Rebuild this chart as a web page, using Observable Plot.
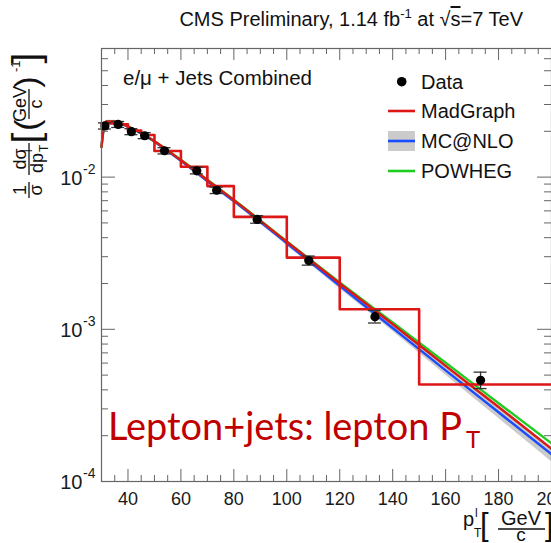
<!DOCTYPE html>
<html><head><meta charset="utf-8">
<script src="https://cdn.jsdelivr.net/npm/d3@7"></script>
<script src="https://cdn.jsdelivr.net/npm/@observablehq/plot@0.6"></script>
<style>
body{margin:0;overflow:hidden;background:#fff}
#chart svg{display:block}
</style>
</head><body><div id="chart"></div>
<script>
// ---- data ----
const dataPt   = [31.3, 36.3, 41.3, 46.3, 53.8, 66, 73.5, 88.8, 108.3, 133.3, 173.2];
const dataVal  = [0.0217, 0.0222, 0.0199, 0.0187, 0.0149, 0.0110, 0.0082, 0.00527, 0.00283, 0.00121, 0.000462];
const dataLo   = [0.0207, 0.0212, 0.0190, 0.0179, 0.0142, 0.0105, 0.0078, 0.00498, 0.00264, 0.00110, 0.000408];
const dataHi   = [0.0227, 0.0232, 0.0208, 0.0196, 0.0156, 0.0116, 0.0086, 0.00558, 0.00303, 0.00133, 0.000523];

const curvePt  = [30, 31, 32, 35, 40, 45, 50, 60, 70, 80, 100, 120, 140, 160, 180, 200];
const madgraph = [0.0158, 0.0216, 0.0232, 0.0232, 0.0215, 0.0195, 0.0172, 0.0129, 0.00955, 0.00706, 0.00376, 0.00200, 0.00108, 0.000575, 0.000309, 0.000164];
const powheg   = [0.0158, 0.0216, 0.0232, 0.0232, 0.0215, 0.0195, 0.0172, 0.0130, 0.0096, 0.0071, 0.00378, 0.00203, 0.00111, 0.000603, 0.000327, 0.000178];
const mcnlo    = [0.0158, 0.0216, 0.0231, 0.0231, 0.0214, 0.0194, 0.0171, 0.0128, 0.0094, 0.00695, 0.00368, 0.00193, 0.00102, 0.000537, 0.000285, 0.000151];
const mcnloLo  = [0.0154, 0.0211, 0.0226, 0.0226, 0.0209, 0.0190, 0.0167, 0.0125, 0.0092, 0.00676, 0.00356, 0.00185, 0.00097, 0.000501, 0.000260, 0.000135];
const mcnloHi  = [0.0162, 0.0221, 0.0236, 0.0236, 0.0219, 0.0198, 0.0175, 0.0131, 0.0096, 0.00714, 0.00381, 0.00201, 0.00107, 0.000576, 0.000312, 0.000169];

const binEdges = [30, 35, 40, 45, 50, 60, 70, 80, 100, 120, 150, 200];
const binVals  = [0.0225, 0.0222, 0.0202, 0.0189, 0.01483, 0.0117, 0.00873, 0.00548, 0.00296, 0.001355, 0.000434];

const xMajor = [40, 60, 80, 100, 120, 140, 160, 180, 200];
const xMinor = [35, 45, 50, 55, 65, 70, 75, 85, 90, 95, 105, 110, 115, 125, 130, 135, 145, 150, 155, 165, 170, 175, 185, 190, 195];
const yMajor = [1e-4, 1e-3, 1e-2];
const yMinor = [2e-4,3e-4,4e-4,5e-4,6e-4,7e-4,8e-4,9e-4,2e-3,3e-3,4e-3,5e-3,6e-3,7e-3,8e-3,9e-3,0.02,0.03,0.04,0.05,0.06,0.07];

// ---- tables built from the arrays ----
const pts = dataPt.map((x, i) => ({x, y: dataVal[i], lo: dataLo[i], hi: dataHi[i]}));
const curves = curvePt.map((x, i) => ({x, mg: madgraph[i], pw: powheg[i], mc: mcnlo[i], lo: mcnloLo[i], hi: mcnloHi[i]}));
const hist = binEdges.map((x, i) => ({x, y: binVals[Math.min(i, binVals.length - 1)]}));

const W = 551, H = 543, mL = 101, mR = 0, mT = 48, mB = 62;
const pW = W - mL - mR, pH = H - mT - mB;
const axisCol = "#666";
const RED = "#dd1616", BLUE = "#1a4cff", GREEN = "#1fcc1f", BAND = "#cbcbcb";

const chart = Plot.plot({
  width: W, height: H,
  marginLeft: mL, marginRight: mR, marginTop: mT, marginBottom: mB,
  style: {fontFamily: "'Liberation Sans', Arial, sans-serif", background: "#fff", color: "#1a1a1a", overflow: "visible"},
  x: {domain: [30, 200], axis: null},
  y: {type: "log", domain: [1e-4, 0.07], axis: null},
  marks: [
    Plot.areaY(curves, {x: "x", y1: "lo", y2: "hi", fill: BAND, curve: "monotone-x"}),
    Plot.line(curves, {x: "x", y: "mc", stroke: BLUE, strokeWidth: 2.4, curve: "monotone-x"}),
    Plot.line(curves, {x: "x", y: "pw", stroke: GREEN, strokeWidth: 2.4, curve: "monotone-x"}),
    Plot.line(curves, {x: "x", y: "mg", stroke: RED, strokeWidth: 2.4, curve: "monotone-x"}),
    Plot.line(hist, {x: "x", y: "y", stroke: RED, strokeWidth: 2.6, curve: "step-after"}),
    Plot.ruleX(pts, {x: "x", y1: "lo", y2: "hi", stroke: "#333", strokeWidth: 1.3}),
    Plot.ruleY(pts, {y: "lo", x1: "x", x2: "x", insetLeft: -6.5, insetRight: -6.5, stroke: "#333", strokeWidth: 1.3}),
    Plot.ruleY(pts, {y: "hi", x1: "x", x2: "x", insetLeft: -6.5, insetRight: -6.5, stroke: "#333", strokeWidth: 1.3}),
    Plot.dot(pts, {x: "x", y: "y", r: 4.6, fill: "#000", stroke: "none"}),
    // ticks (inward)
    Plot.ruleX(xMajor, {x: d => d, insetTop: pH - 12, stroke: axisCol}),
    Plot.ruleX(xMinor, {x: d => d, insetTop: pH - 6, stroke: axisCol}),
    Plot.ruleX(xMajor, {x: d => d, insetBottom: pH - 12, stroke: axisCol}),
    Plot.ruleX(xMinor, {x: d => d, insetBottom: pH - 6, stroke: axisCol}),
    Plot.ruleY(yMajor, {y: d => d, insetRight: pW - 14, stroke: axisCol}),
    Plot.ruleY(yMinor, {y: d => d, insetRight: pW - 7, stroke: axisCol}),
    Plot.ruleY(yMajor, {y: d => d, insetLeft: pW - 14, stroke: axisCol}),
    Plot.ruleY(yMinor, {y: d => d, insetLeft: pW - 7, stroke: axisCol}),
    Plot.frame({stroke: axisCol, strokeWidth: 1.2}),
    // tick labels
    Plot.axisX({ticks: xMajor, tickSize: 0, tickPadding: 11, fontSize: 18, tickFormat: d => String(d), label: null}),
    Plot.axisY({ticks: yMajor, tickSize: 0, tickPadding: 19, fontSize: 20, tickFormat: () => "10", label: null, dy: 1}),
    Plot.axisY({ticks: yMajor, tickSize: 0, tickPadding: 6, fontSize: 14, tickFormat: d => String(Math.round(Math.log10(d))), label: null, dy: -8})
  ]
});
document.getElementById("chart").append(chart);

// ---- annotations ----
const svg = d3.select(chart);
const ink = "#111";
const FONT = "'Liberation Sans', Arial, sans-serif";
function T(parent, x, y, s, size, anchor = "start", extra = {}) {
  return parent.append("text").attr("x", x).attr("y", y).attr("font-size", size)
    .attr("text-anchor", anchor).attr("fill", extra.fill || ink).attr("font-family", extra.family || FONT).text(s);
}

// title
const title = svg.append("text").attr("x", 523).attr("y", 26).attr("text-anchor", "end")
  .attr("font-size", 20).attr("font-family", FONT).attr("fill", ink);
title.append("tspan").text("CMS Preliminary, 1.14 fb");
title.append("tspan").attr("font-size", 13).attr("dy", -8).text("-1");
title.append("tspan").attr("dy", 8).text(" at ");
title.append("tspan").text("\u221A");
title.append("tspan").style("text-decoration", "overline").text("s");
title.append("tspan").text("=7 TeV");

// inner label
T(svg, 123, 85, "e/\u03BC + Jets Combined", 20.5);

// legend
svg.append("circle").attr("cx", 401.7).attr("cy", 81.7).attr("r", 4.8).attr("fill", "#000");
T(svg, 421, 89, "Data", 20);
svg.append("line").attr("x1", 388).attr("x2", 415).attr("y1", 111).attr("y2", 111).attr("stroke", RED).attr("stroke-width", 2.6);
T(svg, 421, 118, "MadGraph", 20);
svg.append("rect").attr("x", 388).attr("y", 131).attr("width", 27).attr("height", 20).attr("fill", BAND);
svg.append("line").attr("x1", 388).attr("x2", 415).attr("y1", 141).attr("y2", 141).attr("stroke", BLUE).attr("stroke-width", 2.6);
T(svg, 421, 148, "MC@NLO", 20);
svg.append("line").attr("x1", 388).attr("x2", 415).attr("y1", 171).attr("y2", 171).attr("stroke", GREEN).attr("stroke-width", 2.6);
T(svg, 421, 178, "POWHEG", 20);

// big caption
const cap = svg.append("text").attr("x", 108).attr("y", 440).attr("text-anchor", "start")
  .attr("font-family", "Lato, 'Open Sans', sans-serif").attr("font-size", 40).attr("fill", "#c00000");
const capMain = cap.append("tspan").text("Lepton+jets: lepton P");
const capLen = capMain.node().getComputedTextLength();
cap.attr("font-size", 40 * 354 / capLen);
cap.append("tspan").attr("font-size", 24).attr("dy", 8).attr("dx", 4).text("T");

// y axis label (rotated)
const gy = svg.append("g").attr("transform", "translate(29,215) rotate(-90)").attr("fill", ink).attr("font-family", FONT);
T(gy, 25, -3, "1", 18, "middle");
T(gy, 25, 13, "\u03C3", 18, "middle");
gy.append("line").attr("x1", 17).attr("x2", 33).attr("y1", 0).attr("y2", 0).attr("stroke", ink).attr("stroke-width", 1.3);
T(gy, 56, -3, "d\u03C3", 18, "middle");
T(gy, 52, 14, "dp", 18, "middle");
T(gy, 63, 3, "l", 12, "start");
T(gy, 63, 19, "T", 12, "start");
gy.append("line").attr("x1", 40).attr("x2", 72).attr("y1", 0).attr("y2", 0).attr("stroke", ink).attr("stroke-width", 1.3);
T(gy, 77, 10, "[", 39, "middle");
T(gy, 90, 9, "(", 34, "middle");
T(gy, 111, -3, "GeV", 18, "middle");
T(gy, 111, 13, "c", 18, "middle");
gy.append("line").attr("x1", 96).attr("x2", 126).attr("y1", 0).attr("y2", 0).attr("stroke", ink).attr("stroke-width", 1.3);
T(gy, 133, 9, ")", 34, "middle");
T(gy, 143, -9, "-1", 13, "start");
T(gy, 157, 10, "]", 39, "middle");

// x axis label
T(svg, 463, 526, "p", 20);
T(svg, 475, 517, "l", 12);
T(svg, 474, 537, "T", 12);
T(svg, 480, 535, "[", 31);
T(svg, 521, 525, "GeV", 20, "middle");
svg.append("line").attr("x1", 498).attr("x2", 545).attr("y1", 529).attr("y2", 529).attr("stroke", ink).attr("stroke-width", 1.5);
T(svg, 521, 541, "c", 19, "middle");
T(svg, 545, 535, "]", 31);
</script>
</body></html>
